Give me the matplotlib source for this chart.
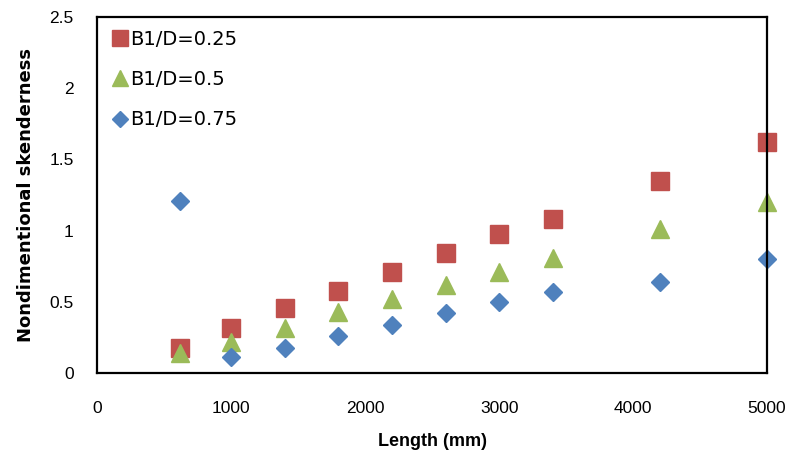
import matplotlib

matplotlib.use("Agg")
import matplotlib.pyplot as plt

length_mm = [620, 1000, 1400, 1800, 2200, 2600, 3000, 3400, 4200, 5000]
b1d_025 = [0.18, 0.32, 0.455, 0.58, 0.71, 0.84, 0.98, 1.085, 1.35, 1.62]
b1d_050 = [0.14, 0.22, 0.32, 0.43, 0.52, 0.62, 0.71, 0.81, 1.01, 1.20]
b1d_075 = [1.21, 0.11, 0.175, 0.26, 0.34, 0.42, 0.50, 0.57, 0.64, 0.80]

x_ticks = [0, 1000, 2000, 3000, 4000, 5000]
y_ticks = [0, 0.5, 1, 1.5, 2, 2.5]
y_tick_labels = ["0", "0.5", "1", "1.5", "2", "2.5"]

plt.rcParams["font.family"] = ["Liberation Sans", "DejaVu Sans"]

fig = plt.figure(figsize=(7.9, 4.59), dpi=100)
ax = fig.add_axes([0.123, 0.187, 0.848, 0.776])

ax.plot(length_mm, b1d_025, linestyle="none", marker="s", markersize=12.5,
        color="#C0504D", label="B1/D=0.25", clip_on=False)
ax.plot(length_mm, b1d_050, linestyle="none", marker="^", markersize=13,
        color="#9BBB59", label="B1/D=0.5", clip_on=False)
ax.plot(length_mm, b1d_075, linestyle="none", marker="D", markersize=9.5,
        color="#4F81BD", label="B1/D=0.75", clip_on=False)

ax.set_xlim(0, 5000)
ax.set_ylim(0, 2.5)
ax.set_xticks(x_ticks)
ax.set_xticklabels([str(t) for t in x_ticks])
ax.set_yticks(y_ticks)
ax.set_yticklabels(y_tick_labels)
ax.tick_params(length=0, labelsize=12.5)
ax.tick_params(axis="x", pad=20)
ax.tick_params(axis="y", pad=17)
for s in ax.spines.values():
    s.set_linewidth(1.6)
    s.set_color("black")

ax.set_xlabel("Length (mm)", fontsize=13, fontweight="bold", labelpad=12)
ax.set_ylabel("Nondimentional skenderness", fontsize=13, fontweight="bold",
              family="DejaVu Sans", labelpad=10)

leg = ax.legend(loc="upper left", frameon=False, prop={"family": "DejaVu Sans", "size": 14},
                handletextpad=0.05, handlelength=1.0, labelspacing=1.1,
                borderaxespad=0.35, borderpad=0.3, markerscale=0.9)

fig.savefig("out.png", dpi=100)
